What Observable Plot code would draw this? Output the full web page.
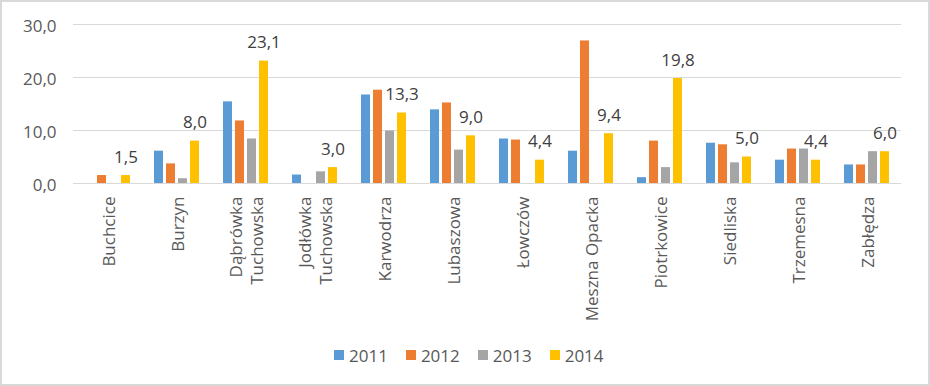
<!DOCTYPE html>
<html><head><meta charset="utf-8">
<script src="https://cdn.jsdelivr.net/npm/d3@7"></script>
<script src="https://cdn.jsdelivr.net/npm/@observablehq/plot@0.6"></script>
<style>
body{margin:0;background:#fff;}
#chart{position:relative;width:930px;height:386px;box-sizing:border-box;border:2px solid #d9d9d9;background:#fff;font-family:"Open Sans",sans-serif;overflow:hidden;}
#chart svg{position:absolute;left:0;top:0;}
#legend{position:absolute;left:332px;top:342px;display:flex;align-items:center;height:22px;font-size:17px;color:#595959;}
.item{display:flex;align-items:center;margin-right:18px;}
.sw{width:10px;height:10px;margin-right:5px;}
</style></head><body><div id="chart"><div id="legend"></div></div>
<script>
const categories = ["Buchcice","Burzyn","Dąbrówka\nTuchowska","Jodłówka\nTuchowska","Karwodrza","Lubaszowa","Łowczów","Meszna Opacka","Piotrkowice","Siedliska","Trzemesna","Zabłędza"];
const years = ["2011","2012","2013","2014"];
const colors = ["#5b9bd5","#ed7d31","#a5a5a5","#ffc000"];
const v2011 = [0, 6.1, 15.4, 1.6, 16.7, 13.9, 8.4, 6.1, 1.1, 7.6, 4.4, 3.5];
const v2012 = [1.5, 3.7, 11.8, 0, 17.6, 15.2, 8.2, 26.9, 8.0, 7.3, 6.5, 3.5];
const v2013 = [0, 0.9, 8.4, 2.2, 9.9, 6.3, 0, 0, 3.0, 3.9, 6.5, 6.0];
const v2014 = [1.5, 8.0, 23.1, 3.0, 13.3, 9.0, 4.4, 9.4, 19.8, 5.0, 4.4, 6.0];
const yTicks = [0, 10, 20, 30];

const series = [v2011, v2012, v2013, v2014];
const data = categories.flatMap((c, i) => years.map((y, j) => ({category: c, year: y, value: series[j][i]})));
const labels = data.filter(d => d.year === "2014");
const fmt = v => d3.format(".1f")(v).replace(".", ",");

const plot = Plot.plot({
  width: 926, height: 340,
  marginLeft: 66, marginRight: 22, marginTop: 22, marginBottom: 159,
  style: {fontFamily: '"Open Sans", sans-serif', fontSize: "17px", background: "transparent", overflow: "visible"},
  fx: {domain: categories, padding: 0, axis: null},
  x: {domain: years, paddingInner: 0.23, paddingOuter: 0.81, axis: null},
  y: {domain: [0, 30], axis: null},
  color: {domain: years, range: colors},
  marks: [
    Plot.gridY(yTicks, {stroke: "#d9d9d9", strokeOpacity: 1}),
    Plot.axisY(yTicks, {tickSize: 0, tickPadding: 17, tickFormat: fmt, fill: "#595959", label: null, dy: 2, fontSize: 17}),
    Plot.barY(data, {fx: "category", x: "year", y: "value", fill: "year"}),
    Plot.text(labels, {fx: "category", x: "year", y: "value", text: d => fmt(d.value), lineAnchor: "bottom", dy: -13, fill: "#404040", fontSize: 17}),
    Plot.axisFx({anchor: "bottom", tickRotate: -90, tickSize: 0, tickPadding: 13, label: null, fill: "#595959", lineHeight: 1.25, textAnchor: "end", lineAnchor: "middle", fontSize: 17})
  ]
});
const chart = document.getElementById("chart");
chart.insertBefore(plot, chart.firstChild);

const legend = d3.select("#legend");
years.forEach((y, i) => {
  const item = legend.append("div").attr("class", "item");
  item.append("span").attr("class", "sw").style("background", colors[i]);
  item.append("span").text(y);
});
</script>
</body></html>
